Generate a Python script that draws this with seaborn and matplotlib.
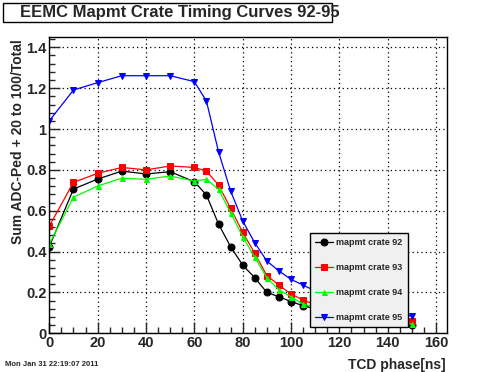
import numpy as np
import pandas as pd
import seaborn as sns
import matplotlib.pyplot as plt
from matplotlib.patches import Rectangle
from matplotlib.ticker import MultipleLocator, FormatStrFormatter

# TCD phase points
phase = [0, 10, 20, 30, 40, 50, 60, 65, 70, 75, 80, 85, 90, 95, 100, 105, 110, 120, 130, 140, 150]

crate92 = [0.424, 0.706, 0.755, 0.794, 0.780, 0.791, 0.742, 0.677, 0.535, 0.424, 0.334, 0.272,
           0.200, 0.179, 0.155, 0.135, 0.120, 0.090, 0.070, 0.055, 0.040]
crate93 = [0.525, 0.739, 0.783, 0.812, 0.800, 0.819, 0.812, 0.794, 0.726, 0.612, 0.494, 0.392,
           0.282, 0.236, 0.192, 0.163, 0.140, 0.110, 0.090, 0.070, 0.058]
crate94 = [0.437, 0.666, 0.721, 0.759, 0.754, 0.770, 0.745, 0.754, 0.705, 0.590, 0.473, 0.372,
           0.272, 0.212, 0.179, 0.143, 0.128, 0.100, 0.080, 0.060, 0.045]
crate95 = [1.040, 1.191, 1.227, 1.261, 1.261, 1.261, 1.232, 1.137, 0.889, 0.697, 0.550, 0.443,
           0.354, 0.305, 0.264, 0.236, 0.207, 0.170, 0.140, 0.110, 0.084]

labels = ["mapmt crate 92", "mapmt crate 93", "mapmt crate 94", "mapmt crate 95"]
series = [crate92, crate93, crate94, crate95]
colors = ["black", "#ff0000", "#00ff00", "#0000ff"]
markers = ["o", "s", "^", "v"]
msizes = [5, 4.5, 3.6, 4.3]

sns.set_style("ticks")
plt.rcParams["font.family"] = ["Liberation Sans", "DejaVu Sans"]
plt.rcParams["font.weight"] = "bold"

fig = plt.figure(figsize=(4.96, 3.72), dpi=100)
ax = fig.add_axes([49.3 / 496, 1 - 333.3 / 372, 397.4 / 496, 296 / 372])

for lab, vals, c, m, ms in zip(labels, series, colors, markers, msizes):
    sns.lineplot(x=phase, y=vals, ax=ax, color=c, marker=m, markersize=ms,
                 markeredgecolor=c, linewidth=0.9, label=lab)

ax.set_xlim(0, 164.4)
ax.set_ylim(0, 1.449)
ax.xaxis.set_major_locator(MultipleLocator(20))
ax.xaxis.set_minor_locator(MultipleLocator(5))
ax.yaxis.set_major_locator(MultipleLocator(0.2))
ax.yaxis.set_minor_locator(MultipleLocator(0.04))
ax.yaxis.set_major_formatter(FormatStrFormatter("%g"))
ax.tick_params(which="both", direction="in", top=False, right=False, labelsize=10.5, pad=2)
ax.tick_params(which="major", length=8, width=1)
ax.tick_params(which="minor", length=4, width=1)
for lbl in ax.get_xticklabels() + ax.get_yticklabels():
    lbl.set_fontweight("bold")
for sp in ax.spines.values():
    sp.set_color("black")
    sp.set_linewidth(1)
ax.grid(True, which="major", color="black", linestyle=(0, (1, 2.5)), linewidth=0.9)
ax.set_xlabel("")
ax.set_ylabel("")

leg = ax.legend(loc="lower left", bbox_to_anchor=(0.656, 0.021), fontsize=6.5,
                frameon=True, fancybox=False, edgecolor="black", facecolor="#f0f0f0",
                framealpha=1, labelspacing=1.75, handlelength=2.0, handletextpad=0.3,
                borderpad=0.6, borderaxespad=0)
leg.get_frame().set_linewidth(1)
for t in leg.get_texts():
    t.set_fontweight("bold")
leg.set_zorder(10)

# title box
fig.patches.append(Rectangle((3 / 496, 1 - 22 / 372), 329 / 496, 19 / 372, transform=fig.transFigure,
                             facecolor="white", edgecolor="black", linewidth=1))
fig.text(20 / 496, 1 - 12.5 / 372, "EEMC Mapmt Crate Timing Curves 92-95", fontsize=12,
         fontweight="bold", ha="left", va="center")

fig.text(18 / 496, 1 - 39 / 372, "Sum ADC-Ped + 20 to 100/Total", rotation=90, fontsize=10,
         fontweight="bold", ha="center", va="top")
fig.text(446 / 496, 1 - 365 / 372, "TCD phase[ns]", fontsize=10, fontweight="bold",
         ha="right", va="center")
fig.text(5 / 496, 1 - 365 / 372, "Mon Jan 31 22:19:07 2011", fontsize=5.5, ha="left", va="center")

fig.savefig("out.png", dpi=100)
